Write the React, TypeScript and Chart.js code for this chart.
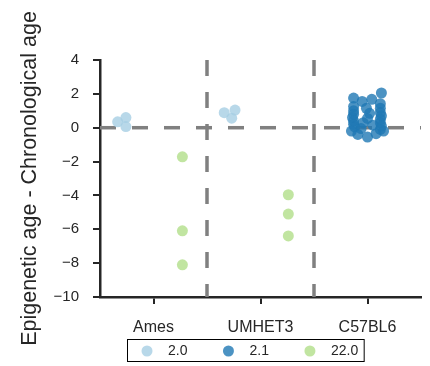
import React, { useEffect, useRef } from "react";
import { Chart, registerables } from "chart.js";

Chart.register(...registerables);

// ---- data ----
const categories = ["Ames", "UMHET3", "C57BL6"];
const hueLabels = ["2.0", "2.1", "22.0"];
const hueColors = ["rgba(166,206,227,0.8)", "rgba(31,120,180,0.8)", "rgba(178,223,138,0.8)"];

// hue "2.0" (light blue)
const lbCat = [0, 0, 0, 1, 1, 1];
const lbX = [-0.335, -0.258, -0.258, -0.339, -0.238, -0.269];
const lbY = [0.35, 0.6, 0.07, 0.89, 1.04, 0.56];

// hue "2.1" (dark blue)
const dbCat = [2, 2, 2, 2, 2, 2, 2, 2, 2, 2, 2, 2, 2, 2, 2, 2, 2, 2, 2, 2, 2, 2, 2, 2, 2, 2, 2, 2, 2, 2];
const dbX = [0.13, -0.13, -0.05, 0.04, 0.12, -0.13, -0.13, -0.13, -0.14, -0.13, -0.13, -0.12, 0.12, 0.12, 0.13, 0.12, 0.12, 0.13, 0.12, -0.01, 0.02, 0.0, -0.04, 0.05, -0.06, -0.09, 0.0, 0.08, 0.15, -0.15];
const dbY = [2.05, 1.75, 1.55, 1.68, 1.42, 1.25, 1.0, 0.8, 0.6, 0.4, 0.2, 0.05, 1.15, 0.9, 0.7, 0.5, 0.3, 0.1, -0.1, 1.15, 0.85, 0.55, 0.3, 0.15, -0.05, -0.4, -0.55, -0.35, -0.2, -0.2];

// hue "22.0" (green)
const grCat = [0, 0, 0, 1, 1, 1];
const grX = [0.27, 0.27, 0.27, 0.26, 0.26, 0.26];
const grY = [-1.72, -6.09, -8.1, -3.96, -5.1, -6.39];

const yTicks = [-10, -8, -6, -4, -2, 0, 2, 4];
const yTitle = "Epigenetic age - Chronological age";

const FONT = '"Liberation Sans", Arial, sans-serif';
const INK = "#262626";

const toPts = (cat: number[], xs: number[], ys: number[]) =>
  ys.map((y, i) => ({ x: cat[i] + xs[i], y }));

const legendPlugin = {
  id: "boxLegend",
  afterDraw(chart: any) {
    const ctx = chart.ctx;
    ctx.save();
    ctx.font = `14px ${FONT}`;
    ctx.textBaseline = "middle";
    ctx.textAlign = "left";
    const left = 127.5;
    const top = 339.5;
    const h = 22;
    const cy = top + h / 2 + 0.5;
    let x = left + 19.5;
    let lastEnd = x;
    hueLabels.forEach((lab, i) => {
      ctx.fillStyle = hueColors[i];
      ctx.beginPath();
      ctx.arc(x, cy, 5.5, 0, Math.PI * 2);
      ctx.fill();
      ctx.fillStyle = INK;
      ctx.fillText(lab, x + 21, cy);
      lastEnd = x + 21 + ctx.measureText(lab).width;
      x = lastEnd + 41;
    });
    ctx.strokeStyle = "#000";
    ctx.lineWidth = 1;
    ctx.strokeRect(left, top, lastEnd + 6 - left, h);
    ctx.restore();
  },
};

export default function App() {
  const ref = useRef<HTMLCanvasElement | null>(null);

  useEffect(() => {
    if (!ref.current) return;
    const dash = {
      type: "line" as const,
      borderColor: "#808080",
      borderWidth: 3.5,
      borderDash: [16, 16],
      pointRadius: 0,
      showLine: true,
      fill: false,
    };
    const chart = new Chart(ref.current, {
      type: "scatter",
      data: {
        datasets: [
          { label: hueLabels[0], data: toPts(lbCat, lbX, lbY), backgroundColor: hueColors[0], borderWidth: 0, pointRadius: 5.5 },
          { label: hueLabels[1], data: toPts(dbCat, dbX, dbY), backgroundColor: hueColors[1], borderWidth: 0, pointRadius: 5.5 },
          { label: hueLabels[2], data: toPts(grCat, grX, grY), backgroundColor: hueColors[2], borderWidth: 0, pointRadius: 5.5 },
          { ...dash, label: "zero", data: [{ x: -0.5, y: 0 }, { x: 2.5, y: 0 }] },
          { ...dash, label: "sep1", data: [{ x: 0.5, y: 4 }, { x: 0.5, y: -10 }] },
          { ...dash, label: "sep2", data: [{ x: 1.5, y: 4 }, { x: 1.5, y: -10 }] },
        ] as any,
      },
      options: {
        animation: false,
        responsive: false,
        layout: { padding: { top: 60, right: 9, left: 0, bottom: 0 } },
        plugins: { legend: { display: false }, tooltip: { enabled: false } },
        scales: {
          x: {
            type: "linear",
            min: -0.5,
            max: 2.5,
            afterBuildTicks: (scale: any) => {
              scale.ticks = categories.map((_, i) => ({ value: i }));
            },
            afterFit: (scale: any) => {
              scale.height = 69;
            },
            ticks: {
              autoSkip: false,
              maxRotation: 0,
              padding: 14,
              color: INK,
              font: { family: FONT, size: 16 },
              callback: (v: any) => categories[Math.round(Number(v))] ?? "",
            },
            grid: { display: true, drawOnChartArea: false, drawTicks: true, tickLength: 7, color: INK, lineWidth: 2 },
            border: { display: true, color: INK, width: 2.5 },
          },
          y: {
            type: "linear",
            min: -10,
            max: 4,
            afterBuildTicks: (scale: any) => {
              scale.ticks = yTicks.map((v) => ({ value: v }));
            },
            afterFit: (scale: any) => {
              scale.width = 100;
            },
            ticks: {
              padding: 14,
              color: INK,
              font: { family: FONT, size: 15 },
              callback: (v: any) => (Number(v) < 0 ? "\u2212" + Math.abs(Number(v)) : String(v)),
            },
            grid: { display: true, drawOnChartArea: false, drawTicks: true, tickLength: 7, color: INK, lineWidth: 2 },
            border: { display: true, color: INK, width: 2.5 },
            title: {
              display: true,
              text: yTitle,
              color: INK,
              font: { family: FONT, size: 21.5 },
              padding: { top: 17, bottom: 0 },
            },
          },
        },
      },
      plugins: [legendPlugin],
    } as any);
    return () => chart.destroy();
  }, []);

  return (
    <div style={{ position: "fixed", left: 0, top: 0, width: 430, height: 366, background: "#fff" }}>
      <canvas ref={ref} width={430} height={366} style={{ display: "block" }} />
    </div>
  );
}
